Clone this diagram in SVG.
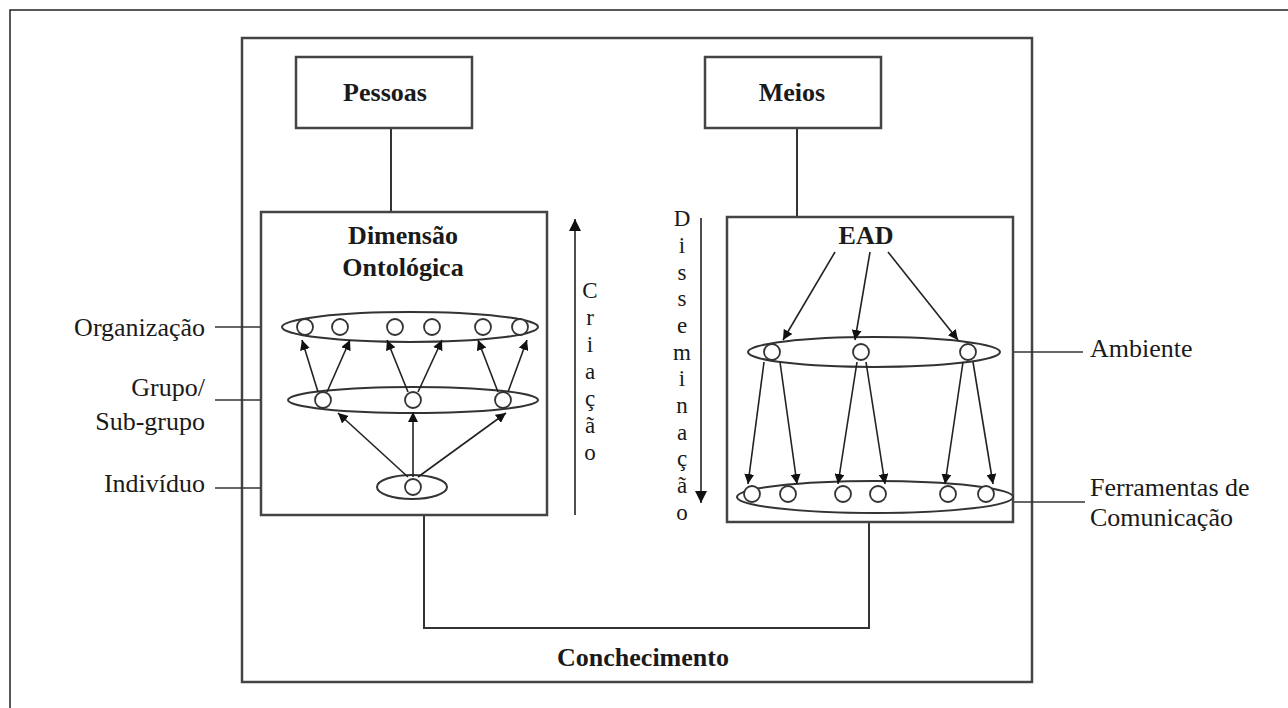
<svg xmlns="http://www.w3.org/2000/svg" width="1288" height="708" viewBox="0 0 1288 708">
<defs>
<marker id="ah" viewBox="0 0 10 10" refX="10" refY="5" markerWidth="10" markerHeight="10" markerUnits="userSpaceOnUse" orient="auto">
<path d="M0,0 L10,5 L0,10 z" fill="#111"/>
</marker>
<marker id="ahb" viewBox="0 0 10 10" refX="10" refY="5" markerWidth="12" markerHeight="12" markerUnits="userSpaceOnUse" orient="auto">
<path d="M0,0 L10,5 L0,10 z" fill="#111"/>
</marker>
</defs>
<style>
.box{fill:#fff;stroke:#444;stroke-width:2.5}
.ln{fill:none;stroke:#333;stroke-width:2}
.thin{fill:none;stroke:#333;stroke-width:1.6}
.ell{fill:#fff;stroke:#333;stroke-width:2}
.cir{fill:#fff;stroke:#333;stroke-width:1.8}
.arr{stroke:#222;stroke-width:1.6;fill:none;marker-end:url(#ah)}
text{font-family:'Liberation Serif','DejaVu Serif',serif;fill:#1a1a1a}
.b{font-weight:bold;font-size:26px;text-anchor:middle}
.r{font-size:26px}
.v{font-size:23px;text-anchor:middle}
</style>
<rect width="1288" height="708" fill="#fff"/>
<g id="frame">
<path d="M10,708 L10,10 L1288,10" fill="none" stroke="#222" stroke-width="1.5"/>
</g>
<g id="conhecimento">
<rect class="box" x="242" y="38" width="790" height="644"/>
<text class="b" x="643" y="666" font-family="Liberation Serif, DejaVu Serif, serif">Conchecimento</text>
</g>
<g id="connectors">
<line class="ln" x1="391" y1="128" x2="391" y2="212"/>
<line class="ln" x1="797" y1="128" x2="797" y2="217"/>
<path class="ln" d="M424,515 L424,628 L869,628 L869,522"/>
<line class="thin" x1="215" y1="327" x2="282" y2="327"/>
<line class="thin" x1="215" y1="400" x2="289" y2="400"/>
<line class="thin" x1="215" y1="488" x2="378" y2="488"/>
<line class="thin" x1="1000" y1="352" x2="1083" y2="352"/>
<line class="thin" x1="1013" y1="502" x2="1085" y2="502"/>
<line class="arr" x1="575" y1="515" x2="575" y2="219" style="marker-end:url(#ahb)"/>
<line class="arr" x1="701" y1="218" x2="701" y2="503" style="marker-end:url(#ahb)"/>
</g>
<g id="pessoas">
<rect class="box" x="296" y="57" width="176" height="71"/>
<text class="b" x="385" y="101" font-size="24" font-family="Liberation Serif, DejaVu Serif, serif">Pessoas</text>
</g>
<g id="meios">
<rect class="box" x="705" y="57" width="176" height="71"/>
<text class="b" x="792" y="101" font-size="24" font-family="Liberation Serif, DejaVu Serif, serif">Meios</text>
</g>
<g id="dimensao">
<rect class="box" x="261" y="212" width="286" height="303"/>
<text class="b" x="403" y="244" font-family="Liberation Serif, DejaVu Serif, serif">Dimensão</text>
<text class="b" x="403" y="276" font-family="Liberation Serif, DejaVu Serif, serif">Ontológica</text>
<ellipse class="ell" cx="410" cy="327" rx="128" ry="15"/>
<circle class="cir" cx="305" cy="327" r="8"/>
<circle class="cir" cx="340" cy="327" r="8"/>
<circle class="cir" cx="395" cy="327" r="8"/>
<circle class="cir" cx="432" cy="327" r="8"/>
<circle class="cir" cx="483" cy="327" r="8"/>
<circle class="cir" cx="520" cy="327" r="8"/>
<ellipse class="ell" cx="413" cy="400" rx="125" ry="13"/>
<circle class="cir" cx="323" cy="400" r="8"/>
<circle class="cir" cx="413" cy="400" r="8"/>
<circle class="cir" cx="503" cy="400" r="8"/>
<ellipse class="ell" cx="412" cy="487" rx="35" ry="12"/>
<circle class="cir" cx="413" cy="487" r="8"/>
<line class="arr" x1="318" y1="392" x2="302" y2="340"/>
<line class="arr" x1="327" y1="392" x2="350" y2="340"/>
<line class="arr" x1="408" y1="392" x2="387" y2="340"/>
<line class="arr" x1="418" y1="392" x2="442" y2="340"/>
<line class="arr" x1="498" y1="392" x2="478" y2="340"/>
<line class="arr" x1="508" y1="392" x2="527" y2="340"/>
<line class="arr" x1="408" y1="477" x2="338" y2="413"/>
<line class="arr" x1="413" y1="477" x2="413" y2="412"/>
<line class="arr" x1="418" y1="477" x2="506" y2="413"/>
</g>
<g id="ead">
<rect class="box" x="727" y="217" width="286" height="305"/>
<text class="b" x="866" y="244" font-family="Liberation Serif, DejaVu Serif, serif">EAD</text>
<ellipse class="ell" cx="874" cy="352" rx="126" ry="15"/>
<circle class="cir" cx="772" cy="352" r="8"/>
<circle class="cir" cx="861" cy="352" r="8"/>
<circle class="cir" cx="968" cy="352" r="8"/>
<ellipse class="ell" cx="875" cy="497" rx="138" ry="16"/>
<circle class="cir" cx="752" cy="494" r="8"/>
<circle class="cir" cx="788" cy="494" r="8"/>
<circle class="cir" cx="843" cy="494" r="8"/>
<circle class="cir" cx="878" cy="494" r="8"/>
<circle class="cir" cx="948" cy="494" r="8"/>
<circle class="cir" cx="986" cy="494" r="8"/>
<line class="arr" x1="835" y1="252" x2="783" y2="340"/>
<line class="arr" x1="870" y1="252" x2="855" y2="340"/>
<line class="arr" x1="888" y1="252" x2="958" y2="340"/>
<line class="arr" x1="764" y1="362" x2="748" y2="484"/>
<line class="arr" x1="780" y1="362" x2="797" y2="484"/>
<line class="arr" x1="857" y1="362" x2="838" y2="484"/>
<line class="arr" x1="866" y1="362" x2="885" y2="484"/>
<line class="arr" x1="963" y1="362" x2="945" y2="484"/>
<line class="arr" x1="973" y1="362" x2="993" y2="484"/>
</g>
<g id="labels" font-family="Liberation Serif, DejaVu Serif, serif">
<text class="r" x="205" y="336" text-anchor="end">Organização</text>
<text class="r" x="205" y="396" text-anchor="end">Grupo/</text>
<text class="r" x="205" y="430" text-anchor="end">Sub-grupo</text>
<text class="r" x="205" y="492" text-anchor="end">Indivíduo</text>
<text class="r" x="1090" y="357">Ambiente</text>
<text class="r" x="1090" y="496">Ferramentas de</text>
<text class="r" x="1090" y="526">Comunicação</text>
</g>
<g id="criacao" font-family="Liberation Serif, DejaVu Serif, serif">
<text class="v" x="590" y="298">C</text>
<text class="v" x="590" y="325">r</text>
<text class="v" x="590" y="352">i</text>
<text class="v" x="590" y="379">a</text>
<text class="v" x="590" y="406">ç</text>
<text class="v" x="590" y="433">ã</text>
<text class="v" x="590" y="460">o</text>
</g>
<g id="disseminacao" font-family="Liberation Serif, DejaVu Serif, serif">
<text class="v" x="682" y="226">D</text>
<text class="v" x="682" y="253">i</text>
<text class="v" x="682" y="280">s</text>
<text class="v" x="682" y="306">s</text>
<text class="v" x="682" y="333">e</text>
<text class="v" x="682" y="360">m</text>
<text class="v" x="682" y="386">i</text>
<text class="v" x="682" y="413">n</text>
<text class="v" x="682" y="440">a</text>
<text class="v" x="682" y="466">ç</text>
<text class="v" x="682" y="493">ã</text>
<text class="v" x="682" y="520">o</text>
</g>
</svg>
